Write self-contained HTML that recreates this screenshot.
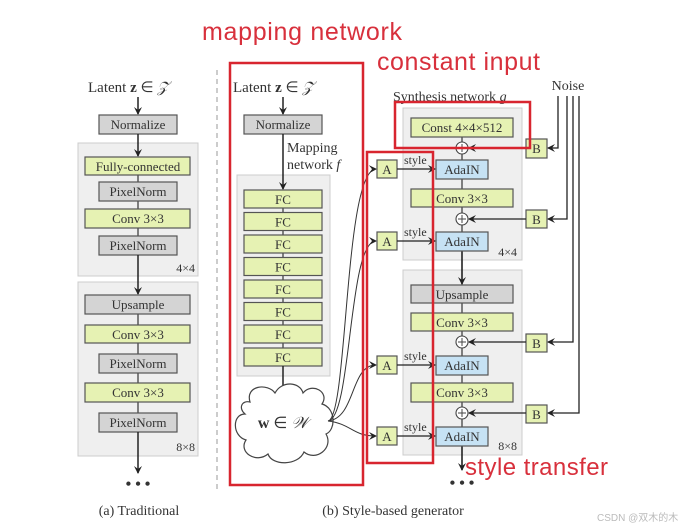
<!DOCTYPE html>
<html><head><meta charset="utf-8"><style>
html,body{margin:0;padding:0;background:#fff;}
svg{display:block;}
.s{font-family:"Liberation Serif",serif;fill:#333;}
.r{font-family:"Liberation Sans",sans-serif;fill:#d8303c;}
</style></head><body>
<svg width="699" height="530" viewBox="0 0 699 530" xmlns="http://www.w3.org/2000/svg">
<defs>
<marker id="ah" markerWidth="8" markerHeight="8" refX="7" refY="4" orient="auto" markerUnits="userSpaceOnUse">
<path d="M0,0 L8,4 L0,8 L3,4 Z" fill="#222"/></marker>
</defs>
<rect width="699" height="530" fill="#fff"/>
<!-- divider -->
<line x1="217" y1="70" x2="217" y2="490" stroke="#bbb" stroke-width="1.5" stroke-dasharray="5,4"/>

<!-- LEFT PANEL -->
<text x="88" y="92" class="s" font-size="15">Latent <tspan font-weight="bold">z</tspan> ∈ <tspan font-style="italic">𝒵</tspan></text>
<line x1="138" y1="97" x2="138" y2="114" stroke="#222" stroke-width="1.5" marker-end="url(#ah)"/>
<rect x="99" y="115" width="78" height="19" fill="#d4d4d4" stroke="#555" stroke-width="1.2"/>
<text x="138" y="129" class="s" font-size="13" text-anchor="middle">Normalize</text>
<rect x="78" y="143" width="120" height="133" fill="#efefef" stroke="#ccc"/>
<line x1="138" y1="134" x2="138" y2="156" stroke="#222" stroke-width="1.5" marker-end="url(#ah)"/>
<line x1="138" y1="175" x2="138" y2="255" stroke="#333" stroke-width="1.2"/>
<rect x="85" y="157" width="105" height="18" fill="#e6f2b3" stroke="#555" stroke-width="1.2"/>
<text x="138" y="171" class="s" font-size="13" text-anchor="middle">Fully-connected</text>
<rect x="99" y="182" width="78" height="19" fill="#d4d4d4" stroke="#555" stroke-width="1.2"/>
<text x="138" y="196" class="s" font-size="13" text-anchor="middle">PixelNorm</text>
<rect x="85" y="209" width="105" height="19" fill="#e6f2b3" stroke="#555" stroke-width="1.2"/>
<text x="138" y="223" class="s" font-size="13" text-anchor="middle">Conv 3×3</text>
<rect x="99" y="236" width="78" height="19" fill="#d4d4d4" stroke="#555" stroke-width="1.2"/>
<text x="138" y="250" class="s" font-size="13" text-anchor="middle">PixelNorm</text>
<text x="195" y="272" class="s" font-size="12" text-anchor="end">4×4</text>
<rect x="78" y="282" width="120" height="174" fill="#efefef" stroke="#ccc"/>
<line x1="138" y1="255" x2="138" y2="294" stroke="#222" stroke-width="1.5" marker-end="url(#ah)"/>
<line x1="138" y1="314" x2="138" y2="432" stroke="#333" stroke-width="1.2"/>
<rect x="85" y="295" width="105" height="19" fill="#d4d4d4" stroke="#555" stroke-width="1.2"/>
<text x="138" y="309" class="s" font-size="13" text-anchor="middle">Upsample</text>
<rect x="85" y="325" width="105" height="18" fill="#e6f2b3" stroke="#555" stroke-width="1.2"/>
<text x="138" y="339" class="s" font-size="13" text-anchor="middle">Conv 3×3</text>
<rect x="99" y="354" width="78" height="19" fill="#d4d4d4" stroke="#555" stroke-width="1.2"/>
<text x="138" y="368" class="s" font-size="13" text-anchor="middle">PixelNorm</text>
<rect x="85" y="383" width="105" height="19" fill="#e6f2b3" stroke="#555" stroke-width="1.2"/>
<text x="138" y="397" class="s" font-size="13" text-anchor="middle">Conv 3×3</text>
<rect x="99" y="413" width="78" height="19" fill="#d4d4d4" stroke="#555" stroke-width="1.2"/>
<text x="138" y="427" class="s" font-size="13" text-anchor="middle">PixelNorm</text>
<text x="195" y="451" class="s" font-size="12" text-anchor="end">8×8</text>
<line x1="138" y1="432" x2="138" y2="473" stroke="#222" stroke-width="1.5" marker-end="url(#ah)"/>
<text x="138" y="489" class="s" font-size="16" text-anchor="middle" font-weight="bold">• • •</text>
<text x="139" y="515" class="s" font-size="14" text-anchor="middle">(a) Traditional</text>

<!-- MIDDLE: mapping -->
<text x="233" y="92" class="s" font-size="15">Latent <tspan font-weight="bold">z</tspan> ∈ <tspan font-style="italic">𝒵</tspan></text>
<line x1="283" y1="97" x2="283" y2="114" stroke="#222" stroke-width="1.5" marker-end="url(#ah)"/>
<rect x="244" y="115" width="78" height="19" fill="#d4d4d4" stroke="#555" stroke-width="1.2"/>
<text x="283" y="129" class="s" font-size="13" text-anchor="middle">Normalize</text>
<text x="287" y="152" class="s" font-size="14">Mapping</text>
<text x="287" y="169" class="s" font-size="14">network <tspan font-style="italic">f</tspan></text>
<rect x="237" y="175" width="93" height="201" fill="#efefef" stroke="#ccc"/>
<line x1="283" y1="134" x2="283" y2="189" stroke="#222" stroke-width="1.5" marker-end="url(#ah)"/>
<line x1="283" y1="190" x2="283" y2="366" stroke="#333" stroke-width="1.2"/>
<g fill="#e6f2b3" stroke="#555" stroke-width="1.2">
<rect x="244" y="190" width="78" height="18"/><rect x="244" y="212.5" width="78" height="18"/>
<rect x="244" y="235" width="78" height="18"/><rect x="244" y="257.5" width="78" height="18"/>
<rect x="244" y="280" width="78" height="18"/><rect x="244" y="302.5" width="78" height="18"/>
<rect x="244" y="325" width="78" height="18"/><rect x="244" y="348" width="78" height="18"/>
</g>
<g class="s" font-size="13" text-anchor="middle">
<text x="283" y="204">FC</text><text x="283" y="226.5">FC</text><text x="283" y="249">FC</text><text x="283" y="271.5">FC</text>
<text x="283" y="294">FC</text><text x="283" y="316.5">FC</text><text x="283" y="339">FC</text><text x="283" y="362">FC</text>
</g>
<line x1="283" y1="366" x2="283" y2="395" stroke="#222" stroke-width="1.5" marker-end="url(#ah)"/>
<path d="M250,402 C245,385 268,383 275,393 C282,380 300,382 303,393 C312,382 330,392 322,404 C336,408 336,430 326,434 C334,448 316,462 304,452 C298,466 272,466 268,454 C256,464 238,452 246,440 C232,436 232,414 245,414 C238,408 242,400 250,402 Z" fill="#fff" stroke="#444" stroke-width="1.2"/>
<text x="283" y="428" class="s" font-size="16" text-anchor="middle"><tspan font-weight="bold">w</tspan> ∈ <tspan font-style="italic">𝒲</tspan></text>
<!-- curves to A -->
<g fill="none" stroke="#333" stroke-width="1">
<path d="M328,421 C348,418 344,170 376,169" marker-end="url(#ah)"/>
<path d="M328,421 C352,418 348,241 376,241" marker-end="url(#ah)"/>
<path d="M328,421 C356,418 350,365 376,365" marker-end="url(#ah)"/>
<path d="M328,421 C352,424 352,436 376,436" marker-end="url(#ah)"/>
</g>
<text x="393" y="515" class="s" font-size="14" text-anchor="middle">(b) Style-based generator</text>

<!-- SYNTHESIS -->
<text x="393" y="101" class="s" font-size="14">Synthesis network <tspan font-style="italic">g</tspan></text>
<text x="568" y="90" class="s" font-size="14" text-anchor="middle">Noise</text>
<rect x="403" y="108" width="119" height="152" fill="#efefef" stroke="#ccc"/>
<rect x="403" y="270" width="119" height="185" fill="#efefef" stroke="#ccc"/>
<line x1="462" y1="137" x2="462" y2="470" stroke="#333" stroke-width="1.2"/>
<line x1="462" y1="251" x2="462" y2="284" stroke="#222" stroke-width="1.5" marker-end="url(#ah)"/>
<line x1="462" y1="446" x2="462" y2="470" stroke="#222" stroke-width="1.5" marker-end="url(#ah)"/>
<rect x="411" y="118" width="102" height="19" fill="#e6f2b3" stroke="#555" stroke-width="1.2"/>
<text x="462" y="132" class="s" font-size="13" text-anchor="middle">Const 4×4×512</text>
<rect x="411" y="189" width="102" height="18" fill="#e6f2b3" stroke="#555" stroke-width="1.2"/>
<text x="462" y="203" class="s" font-size="13" text-anchor="middle">Conv 3×3</text>
<rect x="411" y="285" width="102" height="18" fill="#d4d4d4" stroke="#555" stroke-width="1.2"/>
<text x="462" y="299" class="s" font-size="13" text-anchor="middle">Upsample</text>
<rect x="411" y="313" width="102" height="18" fill="#e6f2b3" stroke="#555" stroke-width="1.2"/>
<text x="462" y="327" class="s" font-size="13" text-anchor="middle">Conv 3×3</text>
<rect x="411" y="383" width="102" height="19" fill="#e6f2b3" stroke="#555" stroke-width="1.2"/>
<text x="462" y="397" class="s" font-size="13" text-anchor="middle">Conv 3×3</text>
<g fill="#c6e2f4" stroke="#555" stroke-width="1.2">
<rect x="436" y="160" width="52" height="19"/><rect x="436" y="232" width="52" height="19"/>
<rect x="436" y="356" width="52" height="19"/><rect x="436" y="427" width="52" height="19"/>
</g>
<g class="s" font-size="13" text-anchor="middle">
<text x="462" y="174">AdaIN</text><text x="462" y="246">AdaIN</text><text x="462" y="370">AdaIN</text><text x="462" y="441">AdaIN</text>
</g>
<text x="517" y="256" class="s" font-size="12" text-anchor="end">4×4</text>
<text x="517" y="450" class="s" font-size="12" text-anchor="end">8×8</text>
<!-- plus circles -->
<g fill="#fff" stroke="#444" stroke-width="1.1">
<circle cx="462" cy="148" r="6"/><circle cx="462" cy="219" r="6"/><circle cx="462" cy="342" r="6"/><circle cx="462" cy="413" r="6"/>
</g>
<g stroke="#444" stroke-width="1">
<path d="M458,148h8M462,144v8M458,219h8M462,215v8M458,342h8M462,338v8M458,413h8M462,409v8"/>
</g>
<!-- A boxes -->
<g fill="#e6f2b3" stroke="#555" stroke-width="1.2">
<rect x="377" y="160" width="20" height="18"/><rect x="377" y="232" width="20" height="18"/>
<rect x="377" y="356" width="20" height="18"/><rect x="377" y="427" width="20" height="18"/>
<rect x="526" y="139" width="21" height="19"/><rect x="526" y="210" width="21" height="18"/>
<rect x="526" y="334" width="21" height="18"/><rect x="526" y="405" width="21" height="18"/>
</g>
<g class="s" font-size="13" text-anchor="middle">
<text x="387" y="174">A</text><text x="387" y="246">A</text><text x="387" y="370">A</text><text x="387" y="441">A</text>
<text x="536.5" y="153">B</text><text x="536.5" y="224">B</text><text x="536.5" y="348">B</text><text x="536.5" y="419">B</text>
</g>
<g stroke="#222" stroke-width="1.3" marker-end="url(#ah)">
<line x1="397" y1="169" x2="435" y2="169"/><line x1="397" y1="241" x2="435" y2="241"/>
<line x1="397" y1="365" x2="435" y2="365"/><line x1="397" y1="436" x2="435" y2="436"/>
<line x1="526" y1="148" x2="469" y2="148"/><line x1="526" y1="219" x2="469" y2="219"/>
<line x1="526" y1="342" x2="469" y2="342"/><line x1="526" y1="413" x2="469" y2="413"/>
</g>
<g class="s" font-size="12">
<text x="404" y="164">style</text><text x="404" y="236">style</text><text x="404" y="360">style</text><text x="404" y="431">style</text>
</g>
<!-- noise lines -->
<g fill="none" stroke="#222" stroke-width="1.3" marker-end="url(#ah)">
<path d="M558,96 V148 H548"/><path d="M567,96 V219 H548"/>
<path d="M573,96 V342 H548"/><path d="M579,96 V413 H548"/>
</g>
<text x="462" y="488" class="s" font-size="16" text-anchor="middle" font-weight="bold">• • •</text>

<!-- RED annotations -->
<g fill="none" stroke="#d8252f" stroke-width="2.5">
<rect x="230" y="63" width="133" height="422"/>
<rect x="367" y="152" width="66" height="311"/>
<rect x="395" y="102" width="135" height="46"/>
</g>
<text x="202" y="40" class="r" font-size="25" textLength="200">mapping network</text>
<text x="377" y="70" class="r" font-size="25" textLength="163">constant input</text>
<text x="465" y="475" class="r" font-size="24" textLength="143">style transfer</text>
<text x="597" y="521" font-family="Liberation Sans, Noto Sans CJK SC, sans-serif" font-size="10" fill="#bbb">CSDN @双木的木</text>
</svg>
</body></html>
